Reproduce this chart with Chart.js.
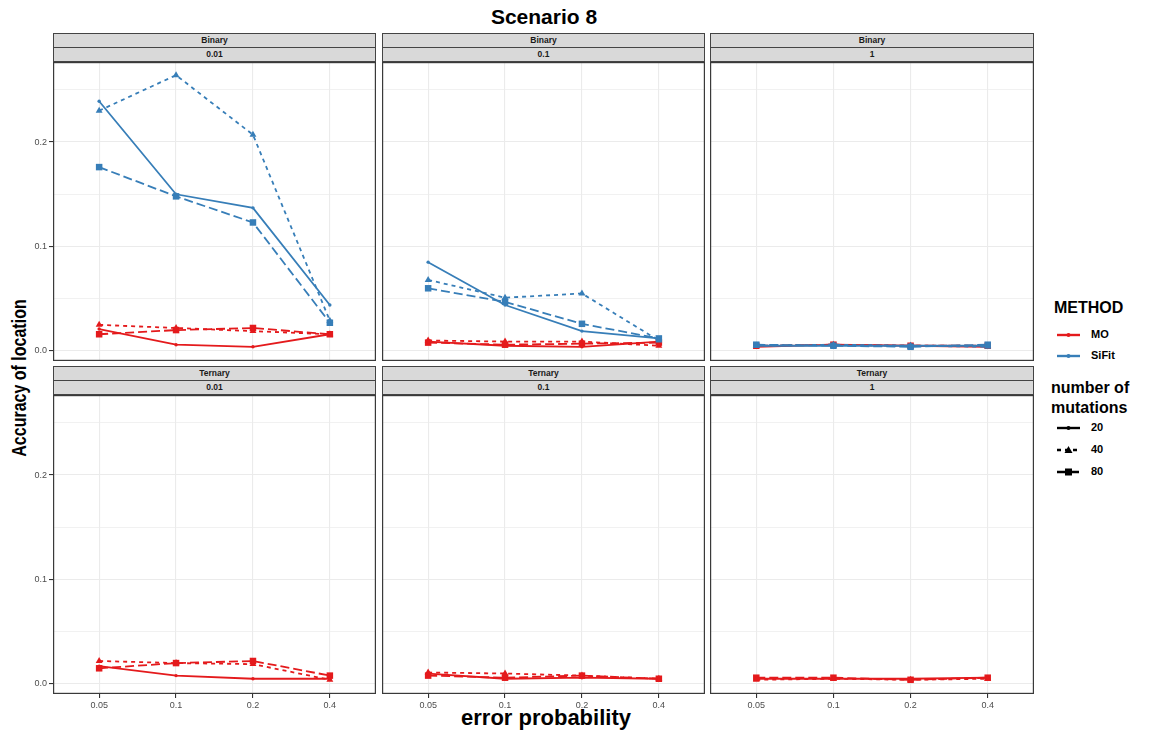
<!DOCTYPE html>
<html>
<head>
<meta charset="utf-8">
<title>Scenario 8</title>
<script src="https://cdn.jsdelivr.net/npm/chart.js@4"></script>
<style>
  body { margin: 0; background: #fff; font-family: "Liberation Sans", Arial, sans-serif; }
  #wrap { position: relative; width: 1151px; height: 733px; overflow: hidden; }
  .abs { position: absolute; }
  .strip { position: absolute; background: #d9d9d9; border: 1px solid #444; box-sizing: border-box;
           font-size: 8.5px; font-weight: bold; color: #1a1a1a; text-align: center; line-height: 13px; }
  .title { left: 0; width: 1088px; top: 5px; text-align: center; font-size: 21px; font-weight: bold; }
  .xtitle { left: 0; width: 1092px; top: 705px; text-align: center; font-size: 22px; font-weight: bold; }
  .ytitle { left: 19px; top: 378px; font-size: 20px; font-weight: bold; white-space: nowrap;
            transform: translate(-50%, -50%) rotate(-90deg) scaleX(0.8); }
  .lgtitle { font-size: 16px; font-weight: bold; line-height: 20px; }
  .lglabel { font-size: 11px; font-weight: bold; }
</style>
</head>
<body>
<div id="wrap">
  <div class="abs title">Scenario 8</div>
  <div class="abs xtitle">error probability</div>
  <div class="abs ytitle">Accuracy of location</div>
</div>
<script>
// x categories and panel facets
const errorProbs = ['0.05', '0.1', '0.2', '0.4'];
const dataTypes = ['Binary', 'Ternary'];
const dropoutRates = ['0.01', '0.1', '1'];
const mutationCounts = ['20', '40', '80'];
const methods = ['MO', 'SiFit'];

// accuracy values per panel, one array per number of mutations
const moBinary001 = { '20': [0.021, 0.006, 0.004, 0.016], '40': [0.025, 0.022, 0.019, 0.016], '80': [0.016, 0.020, 0.022, 0.016] };
const sifitBinary001 = { '20': [0.239, 0.150, 0.137, 0.044], '40': [0.230, 0.264, 0.207, 0.029], '80': [0.176, 0.148, 0.123, 0.027] };
const moBinary01 = { '20': [0.009, 0.005, 0.004, 0.009], '40': [0.010, 0.009, 0.009, 0.005], '80': [0.008, 0.006, 0.007, 0.008] };
const sifitBinary01 = { '20': [0.085, 0.044, 0.019, 0.012], '40': [0.068, 0.051, 0.055, 0.010], '80': [0.060, 0.047, 0.026, 0.012] };
const moBinary1 = { '20': [0.004, 0.006, 0.005, 0.004], '40': [0.005, 0.006, 0.005, 0.005], '80': [0.005, 0.006, 0.005, 0.005] };
const sifitBinary1 = { '20': [0.005, 0.005, 0.005, 0.005], '40': [0.005, 0.006, 0.005, 0.004], '80': [0.006, 0.005, 0.004, 0.006] };
const moTernary001 = { '20': [0.017, 0.008, 0.005, 0.005], '40': [0.022, 0.020, 0.019, 0.004], '80': [0.015, 0.020, 0.022, 0.008] };
const moTernary01 = { '20': [0.010, 0.005, 0.006, 0.005], '40': [0.011, 0.010, 0.008, 0.005], '80': [0.008, 0.006, 0.008, 0.005] };
const moTernary1 = { '20': [0.005, 0.005, 0.005, 0.006], '40': [0.004, 0.005, 0.004, 0.005], '80': [0.006, 0.006, 0.004, 0.006] };

// y axis ticks (labelled and minor)
const yTicks = [0, 0.05, 0.1, 0.15, 0.2, 0.25];
const yMajor = [0, 0.1, 0.2];
const yMin = -0.0096, yMax = 0.2766;

const panelData = {
  'Binary|0.01': { MO: moBinary001, SiFit: sifitBinary001 },
  'Binary|0.1': { MO: moBinary01, SiFit: sifitBinary01 },
  'Binary|1': { MO: moBinary1, SiFit: sifitBinary1 },
  'Ternary|0.01': { MO: moTernary001 },
  'Ternary|0.1': { MO: moTernary01 },
  'Ternary|1': { MO: moTernary1 }
};

const methodColors = { MO: '#e41a1c', SiFit: '#377eb8' };
const shapeFor = { '20': 'circle', '40': 'triangle', '80': 'rect' };
const radiusFor = { '20': 1.7, '40': 4, '80': 4.6 };
const dashFor = { '20': [], '40': [4, 4], '80': [9, 4] };

// panel geometry
const colLeft = [53, 382, 710];
const colWidth = [323, 323, 324];
const rowTop = [33, 366];
const stripH = 29;
const plotH = 299;
const yAxisW = 53;
const xAxisH = 22;

const wrap = document.getElementById('wrap');

// frame around each panel
const panelBorder = {
  id: 'panelBorder',
  afterDraw(chart) {
    const a = chart.chartArea, c = chart.ctx;
    c.save();
    c.strokeStyle = '#3a3a3a';
    c.lineWidth = 1.2;
    c.strokeRect(Math.round(a.left) + 0.6, Math.round(a.top) + 0.6, Math.round(a.right - a.left) - 1.2, Math.round(a.bottom - a.top) - 1.2);
    c.restore();
  }
};

function addStrip(text, left, top, width) {
  const s = document.createElement('div');
  s.className = 'strip';
  s.style.left = left + 'px';
  s.style.top = top + 'px';
  s.style.width = width + 'px';
  s.style.height = '15px';
  s.textContent = text;
  wrap.appendChild(s);
}

dataTypes.forEach((type, r) => {
  dropoutRates.forEach((rate, c) => {
    const panelW = colWidth[c];
    addStrip(type, colLeft[c], rowTop[r], panelW);
    addStrip(rate, colLeft[c], rowTop[r] + 14, panelW);

    const showY = c === 0;
    const showX = r === dataTypes.length - 1;
    const extraLeft = showY ? yAxisW : 0;
    const w = panelW + extraLeft;
    const h = plotH + (showX ? xAxisH : 0);

    const box = document.createElement('div');
    box.className = 'abs';
    box.style.left = (colLeft[c] - extraLeft) + 'px';
    box.style.top = (rowTop[r] + stripH) + 'px';
    box.style.width = w + 'px';
    box.style.height = h + 'px';
    const canvas = document.createElement('canvas');
    box.appendChild(canvas);
    wrap.appendChild(box);

    const datasets = [];
    const series = panelData[type + '|' + rate];
    // SiFit first so it sits above MO
    ['SiFit', 'MO'].forEach(m => {
      if (!series[m]) return;
      mutationCounts.forEach(n => {
        datasets.push({
          label: m + ' ' + n,
          data: series[m][n].map((v, i) => ({ x: i, y: v })),
          borderColor: methodColors[m],
          backgroundColor: methodColors[m],
          borderWidth: 1.8,
          borderDash: dashFor[n],
          pointStyle: shapeFor[n],
          pointRadius: radiusFor[n],
          pointBorderWidth: 0,
          tension: 0
        });
      });
    });

    new Chart(canvas, {
      type: 'line',
      data: { datasets: datasets },
      plugins: [panelBorder],
      options: {
        responsive: true,
        maintainAspectRatio: false,
        animation: false,
        layout: { padding: 0, autoPadding: false },
        plugins: { legend: { display: false }, tooltip: { enabled: false } },
        scales: {
          x: {
            type: 'linear',
            min: -0.6,
            max: 3.6,
            afterBuildTicks: s => { s.ticks = errorProbs.map((_, i) => ({ value: i })); },
            afterFit: s => {
              s.height = showX ? xAxisH : 0;
              s.paddingLeft = 0; s.paddingRight = 0;
            },
            border: { display: false },
            grid: {
              color: '#ebebeb',
              lineWidth: 1.1,
              drawTicks: showX,
              tickLength: 4,
              tickColor: '#333333'
            },
            ticks: {
              display: showX,
              padding: 2,
              color: '#4d4d4d',
              font: { family: 'Liberation Sans', size: 9 },
              maxRotation: 0,
              callback: v => errorProbs[v]
            }
          },
          y: {
            type: 'linear',
            min: yMin,
            max: yMax,
            afterBuildTicks: s => { s.ticks = yTicks.map(v => ({ value: v })); },
            afterFit: s => {
              s.width = showY ? yAxisW : 0;
              s.paddingTop = 0; s.paddingBottom = 0;
            },
            border: { display: false },
            grid: {
              color: '#ebebeb',
              lineWidth: ctx => yMajor.includes(ctx.tick && ctx.tick.value) ? 1.1 : 0.7,
              drawTicks: showY,
              tickLength: 4,
              tickColor: ctx => yMajor.includes(ctx.tick && ctx.tick.value) ? '#333333' : 'rgba(0,0,0,0)'
            },
            ticks: {
              display: showY,
              padding: 2,
              color: '#4d4d4d',
              font: { family: 'Liberation Sans', size: 9 },
              callback: v => yMajor.includes(v) ? v.toFixed(1) : ''
            }
          }
        }
      }
    });
  });
});

// legend on the right
function legendKey(color, dash, shape, y) {
  const ns = 'http://www.w3.org/2000/svg';
  const svg = document.createElementNS(ns, 'svg');
  svg.setAttribute('width', '26');
  svg.setAttribute('height', '12');
  svg.style.position = 'absolute';
  svg.style.left = '1055px';
  svg.style.top = (y - 6) + 'px';
  const line = document.createElementNS(ns, 'line');
  line.setAttribute('x1', '2'); line.setAttribute('x2', '25');
  line.setAttribute('y1', '6'); line.setAttribute('y2', '6');
  line.setAttribute('stroke', color);
  line.setAttribute('stroke-width', '2.4');
  if (dash.length) line.setAttribute('stroke-dasharray', dash.join(' '));
  svg.appendChild(line);
  let mark;
  if (shape === 'rect') {
    mark = document.createElementNS(ns, 'rect');
    mark.setAttribute('x', '10'); mark.setAttribute('y', '2.5');
    mark.setAttribute('width', '7'); mark.setAttribute('height', '7');
  } else if (shape === 'triangle') {
    mark = document.createElementNS(ns, 'polygon');
    mark.setAttribute('points', '13.5,2 17.5,9 9.5,9');
  } else {
    mark = document.createElementNS(ns, 'circle');
    mark.setAttribute('cx', '13.5'); mark.setAttribute('cy', '6'); mark.setAttribute('r', '2');
  }
  mark.setAttribute('fill', color);
  svg.appendChild(mark);
  wrap.appendChild(svg);
}

function legendText(text, cls, left, top) {
  const d = document.createElement('div');
  d.className = 'abs ' + cls;
  d.style.left = left + 'px';
  d.style.top = top + 'px';
  d.innerHTML = text;
  wrap.appendChild(d);
}

legendText('METHOD', 'lgtitle', 1054, 298);
methods.forEach((m, i) => {
  const y = 335 + i * 21;
  legendKey(methodColors[m], [], 'circle', y);
  legendText(m, 'lglabel', 1091, y - 7);
});

legendText('number of<br>mutations', 'lgtitle', 1051, 378);
mutationCounts.forEach((n, i) => {
  const y = 428 + i * 22;
  legendKey('#000000', dashFor[n], shapeFor[n], y);
  legendText(n, 'lglabel', 1091, y - 7);
});
</script>
</body>
</html>
